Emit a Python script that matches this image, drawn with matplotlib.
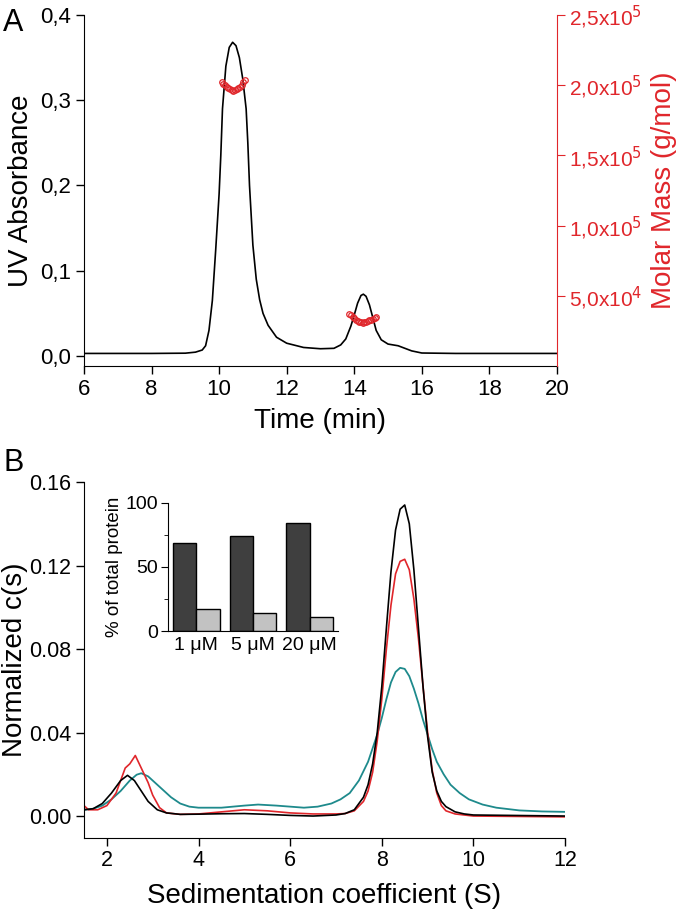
import matplotlib
matplotlib.use("Agg")
import matplotlib.pyplot as plt
from matplotlib.ticker import FixedLocator, FuncFormatter

plt.rcParams['font.family'] = ['Liberation Sans', 'DejaVu Sans']

# ---- panel A : SEC-MALS ----
t_uv = [6.0, 8.0, 9.0, 9.3, 9.5, 9.6, 9.7, 9.8, 9.9, 10.0, 10.05, 10.1, 10.2, 10.3,
        10.4, 10.5, 10.6, 10.7, 10.8, 10.85, 10.9, 11.0, 11.1, 11.2, 11.3, 11.45,
        11.7, 12.0, 12.5, 13.0, 13.4, 13.6, 13.75, 13.9, 14.0, 14.1, 14.2, 14.27,
        14.35, 14.45, 14.55, 14.65, 14.8, 15.0, 15.3, 15.5, 15.7, 16.0, 17.0, 20.0]
uv = [0.003, 0.003, 0.0033, 0.0045, 0.007, 0.012, 0.03, 0.065, 0.125, 0.19, 0.235,
      0.29, 0.34, 0.362, 0.368, 0.364, 0.35, 0.325, 0.29, 0.25, 0.2, 0.13, 0.09,
      0.066, 0.05, 0.036, 0.022, 0.015, 0.010, 0.0085, 0.009, 0.013, 0.02, 0.035,
      0.048, 0.062, 0.071, 0.0725, 0.07, 0.06, 0.045, 0.03, 0.019, 0.014, 0.012,
      0.009, 0.006, 0.0035, 0.003, 0.003]

t_mm1 = [10.08, 10.13, 10.18, 10.22, 10.27, 10.32, 10.37, 10.42, 10.47, 10.52,
         10.57, 10.62, 10.67, 10.72, 10.77]
mm1 = [2.02e5, 2.01e5, 2.0e5, 1.99e5, 1.98e5, 1.97e5, 1.965e5, 1.96e5, 1.965e5,
       1.97e5, 1.98e5, 1.99e5, 2.0e5, 2.02e5, 2.04e5]
t_mm2 = [13.85, 13.9, 13.95, 14.0, 14.05, 14.1, 14.15, 14.2, 14.25, 14.3, 14.35,
         14.4, 14.45, 14.5, 14.55, 14.6, 14.65]
mm2 = [3.72e4, 3.6e4, 3.5e4, 3.4e4, 3.3e4, 3.2e4, 3.15e4, 3.1e4, 3.09e4, 3.12e4,
       3.15e4, 3.2e4, 3.25e4, 3.3e4, 3.35e4, 3.42e4, 3.49e4]

# ---- panel B : c(s) distributions ----
s_black = [1.5, 1.7, 1.9, 2.1, 2.3, 2.45, 2.6, 2.75, 2.9, 3.1, 3.3, 3.6, 4.0, 4.5,
           5.0, 5.5, 6.0, 6.5, 7.0, 7.2, 7.4, 7.6, 7.7, 7.8, 7.9, 8.0, 8.1, 8.2,
           8.3, 8.4, 8.5, 8.6, 8.7, 8.8, 8.9, 9.0, 9.1, 9.2, 9.3, 9.4, 9.6, 9.8,
           10.0, 12.0]
c_black = [0.003, 0.0035, 0.006, 0.011, 0.017, 0.0195, 0.017, 0.012, 0.007, 0.003,
           0.0015, 0.0008, 0.0009, 0.0011, 0.0012, 0.0008, 0.0003, 0.0, 0.0005,
           0.0012, 0.003, 0.009, 0.015, 0.025, 0.04, 0.062, 0.09, 0.117, 0.137,
           0.147, 0.149, 0.14, 0.118, 0.09, 0.062, 0.038, 0.021, 0.012, 0.007,
           0.0045, 0.002, 0.001, 0.0005, 0.0]

s_red = [1.5, 1.6, 1.8, 2.0, 2.2, 2.4, 2.5, 2.62, 2.75, 2.9, 3.0, 3.15, 3.3, 3.6,
         4.0, 4.5, 5.0, 5.5, 6.0, 6.5, 7.0, 7.2, 7.4, 7.6, 7.7, 7.8, 7.9, 8.0, 8.1,
         8.2, 8.3, 8.4, 8.5, 8.6, 8.7, 8.8, 8.9, 9.0, 9.1, 9.2, 9.3, 9.4, 9.6,
         10.0, 12.0]
c_red = [0.005, 0.003, 0.003, 0.005, 0.011, 0.023, 0.025, 0.029, 0.023, 0.016,
         0.01, 0.004, 0.0015, 0.0008, 0.001, 0.002, 0.003, 0.0025, 0.0015, 0.001,
         0.001, 0.0012, 0.0025, 0.007, 0.012, 0.021, 0.036, 0.056, 0.08, 0.101,
         0.116, 0.122, 0.123, 0.118, 0.104, 0.085, 0.062, 0.04, 0.022, 0.011,
         0.005, 0.0025, 0.001, 0.0, -0.0004]

s_teal = [1.5, 1.7, 1.9, 2.1, 2.3, 2.5, 2.65, 2.75, 2.9, 3.05, 3.2, 3.4, 3.6, 3.8,
          4.0, 4.5, 5.0, 5.3, 5.7, 6.0, 6.3, 6.6, 6.9, 7.1, 7.3, 7.5, 7.7, 7.9,
          8.0, 8.1, 8.2, 8.3, 8.4, 8.5, 8.6, 8.7, 8.8, 8.9, 9.0, 9.1, 9.2, 9.35,
          9.5, 9.7, 9.9, 10.2, 10.5, 11.0, 11.5, 12.0]
c_teal = [0.003, 0.0035, 0.005, 0.008, 0.012, 0.017, 0.0198, 0.0205, 0.019, 0.016,
          0.013, 0.009, 0.006, 0.0045, 0.004, 0.004, 0.005, 0.0055, 0.005, 0.0045,
          0.004, 0.0045, 0.006, 0.008, 0.011, 0.017, 0.026, 0.039, 0.047, 0.056,
          0.064, 0.069, 0.071, 0.0705, 0.067, 0.061, 0.054, 0.046, 0.039, 0.032,
          0.026, 0.02, 0.015, 0.011, 0.008, 0.0055, 0.004, 0.0027, 0.0022, 0.002]

# ---- inset bars ----
conc = ['1 μM', '5 μM', '20 μM']
pct_dimer = [69, 74, 84]
pct_mono = [17, 14, 11]

RED = '#e0262b'
TEAL = '#1e8a8c'

fig = plt.figure(figsize=(6.8, 9.14), dpi=100)

# panel A
axA = fig.add_axes([0.1235, 0.5996, 0.6955, 0.384])
axA.plot(t_uv, uv, color='black', lw=1.2)
axA.set_xlim(6, 20)
axA.set_ylim(-0.0117, 0.4)
axA.set_xticks(range(6, 21, 2))
axA.set_yticks([0.0, 0.1, 0.2, 0.3, 0.4])
axA.yaxis.set_major_formatter(FuncFormatter(lambda v, p: f'{v:.1f}'.replace('.', ',')))
axA.set_xlabel('Time (min)', fontsize=20, labelpad=6)
axA.set_ylabel('UV Absorbance', fontsize=20)
axA.yaxis.set_label_coords(-0.105, 0.5)
axA.spines['top'].set_visible(False)
axA.spines['right'].set_visible(False)
axA.tick_params(labelsize=16, length=6, width=1)

axA2 = axA.twinx()
axA2.plot(t_mm1, mm1, 'o', mfc='none', mec=RED, ms=4, mew=0.9)
axA2.plot(t_mm2, mm2, 'o', mfc='none', mec=RED, ms=4, mew=0.9)
axA2.set_ylim(0, 2.5e5)
axA2.set_yticks([5e4, 1e5, 1.5e5, 2e5, 2.5e5])
axA2.set_yticklabels([r'5,0x10$^{4}$', r'1,0x10$^{5}$', r'1,5x10$^{5}$',
                      r'2,0x10$^{5}$', r'2,5x10$^{5}$'])
axA2.set_ylabel('Molar Mass (g/mol)', fontsize=20, color=RED, labelpad=6)
axA2.spines['top'].set_visible(False)
axA2.spines['left'].set_visible(False)
axA2.spines['bottom'].set_visible(False)
axA2.spines['right'].set_color(RED)
axA2.tick_params(axis='y', colors=RED, labelsize=15, length=6, pad=3)

fig.text(0.005, 0.975, 'A', fontsize=22, va='center')

# panel B
axB = fig.add_axes([0.1235, 0.0832, 0.7075, 0.3894])
axB.plot(s_teal, c_teal, color=TEAL, lw=1.3)
axB.plot(s_red, c_red, color=RED, lw=1.2)
axB.plot(s_black, c_black, color='black', lw=1.2)
axB.set_xlim(1.5, 12)
axB.set_ylim(-0.0105, 0.16)
axB.set_xticks([2, 4, 6, 8, 10, 12])
axB.set_yticks([0.0, 0.04, 0.08, 0.12, 0.16])
axB.yaxis.set_major_formatter(FuncFormatter(lambda v, p: f'{v:.2f}'))
axB.set_xlabel('Sedimentation coefficient (S)', fontsize=20, labelpad=8)
axB.set_ylabel('Normalized c(s)', fontsize=20)
axB.yaxis.set_label_coords(-0.116, 0.5)
axB.spines['top'].set_visible(False)
axB.spines['right'].set_visible(False)
axB.tick_params(labelsize=15.5, length=6, width=1, pad=3)

fig.text(0.005, 0.493, 'B', fontsize=22, va='center')

# inset
axI = fig.add_axes([0.247, 0.3096, 0.25, 0.1401])
x = range(len(conc))
axI.bar([i - 0.205 for i in x], pct_dimer, width=0.41, color='#3f3f3f',
        edgecolor='black', lw=1)
axI.bar([i + 0.205 for i in x], pct_mono, width=0.41, color='#c2c2c2',
        edgecolor='black', lw=1)
axI.set_xlim(-0.5, 2.5)
axI.set_ylim(0, 100)
axI.set_xticks(list(x))
axI.set_xticklabels(conc)
axI.set_yticks([0, 50, 100])
axI.yaxis.set_minor_locator(FixedLocator([25, 75]))
axI.set_ylabel('% of total protein', fontsize=13.5, labelpad=2)
axI.spines['top'].set_visible(False)
axI.spines['right'].set_visible(False)
axI.tick_params(axis='x', length=0, labelsize=14, pad=4)
axI.tick_params(axis='y', labelsize=14, length=5, pad=2)
axI.tick_params(axis='y', which='minor', length=3)

fig.savefig('out.png', dpi=100)
